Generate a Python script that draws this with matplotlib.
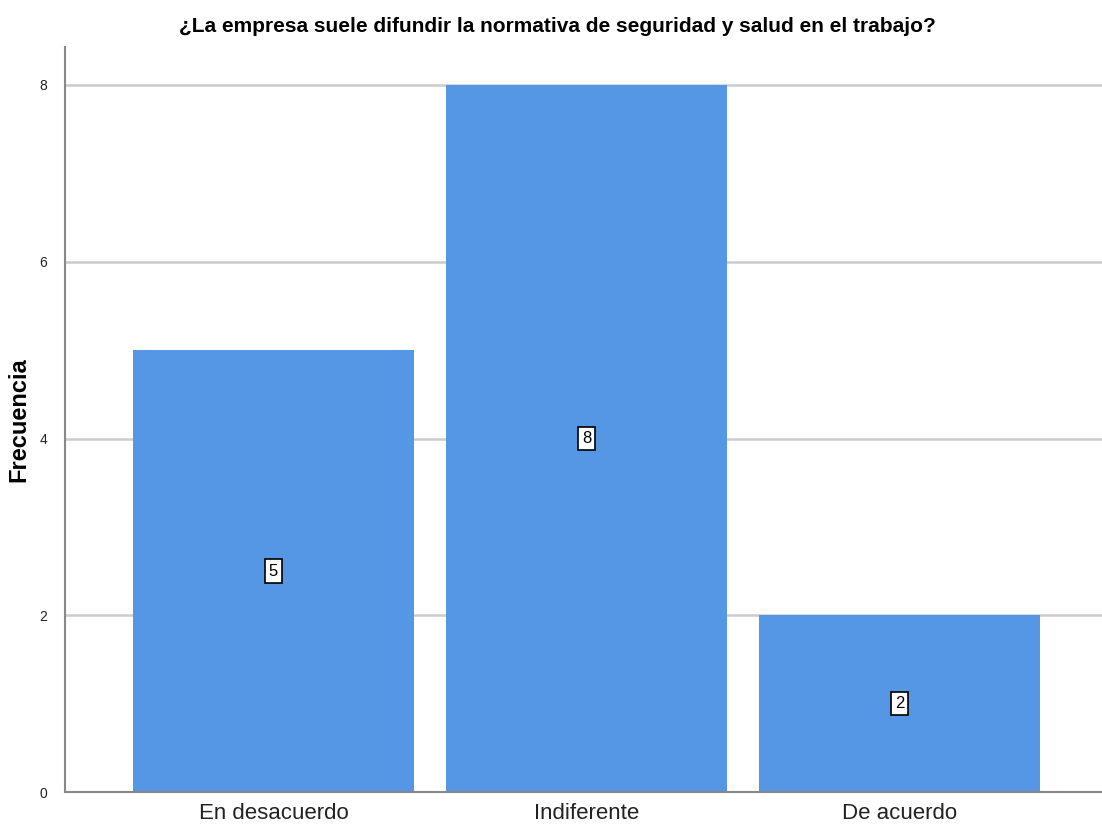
import matplotlib
matplotlib.use("Agg")
import matplotlib.pyplot as plt

categories = ["En desacuerdo", "Indiferente", "De acuerdo"]
counts = [5, 8, 2]
yticks = [0, 2, 4, 6, 8]

title = "¿La empresa suele difundir la normativa de seguridad y salud en el trabajo?"
font = ["Liberation Sans", "DejaVu Sans"]

fig = plt.figure(figsize=(11.02, 8.36), dpi=100)
ax = fig.add_axes([0.059, 0.0526, 0.941, 0.8912])

positions = list(range(len(categories)))
ax.bar(positions, counts, width=0.898, color="#5596E5", zorder=2)

for x, v in zip(positions, counts):
    ax.text(x, v / 2, str(v), ha="center", va="center", fontsize=12,
            family=font, zorder=3,
            bbox=dict(boxstyle="square,pad=0.25", fc="white", ec="black", lw=1.2))

ax.set_xlim(-0.666, 2.647)
ax.set_ylim(0, 8.43)
ax.set_yticks(yticks)
ax.set_yticklabels([str(t) for t in yticks], family=font, fontsize=10)
ax.set_xticks(positions)
ax.set_xticklabels(categories, family=font, fontsize=16)
ax.tick_params(axis="both", length=0, colors="#222222")
ax.tick_params(axis="y", pad=13)
ax.tick_params(axis="x", pad=8)

ax.yaxis.grid(True, color="#cccccc", lw=1.8, zorder=0)
ax.set_axisbelow(True)
for s in ["top", "right"]:
    ax.spines[s].set_visible(False)
for s in ["left", "bottom"]:
    ax.spines[s].set_color("#888888")
    ax.spines[s].set_linewidth(1.5)

ax.set_ylabel("Frecuencia", fontsize=17, fontweight="bold", family=font, labelpad=6)
fig.text(0.506, 0.968, title, ha="center", va="center", fontsize=15,
         fontweight="bold", family=font)

fig.savefig("out.png", dpi=100)
